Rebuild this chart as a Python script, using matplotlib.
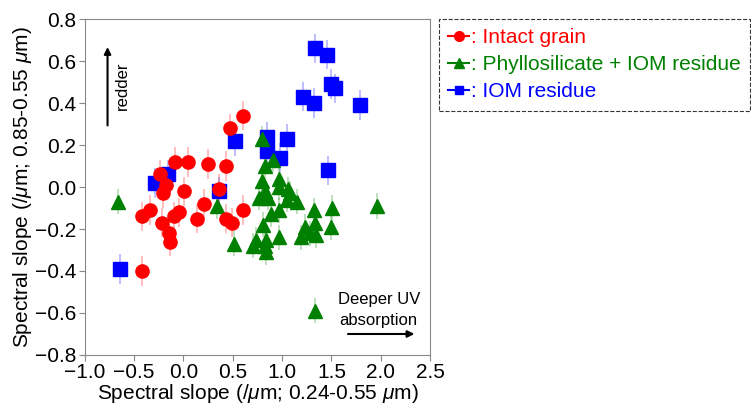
import numpy as np
import matplotlib.pyplot as plt
from matplotlib.lines import Line2D

plt.rcParams['font.family'] = ['Liberation Sans', 'DejaVu Sans']
plt.rcParams['mathtext.fontset'] = 'custom'
plt.rcParams['mathtext.rm'] = 'Liberation Sans'
plt.rcParams['mathtext.it'] = 'Liberation Sans:italic'
plt.rcParams['font.size'] = 15

# Intact grain (red circles)
intact_x = [0.60, 0.47, -0.09, 0.05, 0.25, 0.43, -0.24, -0.18, -0.21, 0.01, 0.36,
            0.21, -0.34, -0.42, -0.05, -0.10, 0.14, -0.22, 0.60, 0.43, 0.49,
            -0.15, -0.14, -0.42]
intact_y = [0.34, 0.28, 0.12, 0.12, 0.11, 0.10, 0.06, 0.01, -0.03, -0.02, -0.01,
            -0.08, -0.11, -0.14, -0.12, -0.14, -0.15, -0.17, -0.11, -0.15, -0.17,
            -0.22, -0.26, -0.40]

# Phyllosilicate + IOM residue (green triangles)
phyllo_x = [-0.66, 0.34, 0.51, 0.80, 0.91, 0.83, 0.97, 0.80, 0.83, 0.97, 1.06, 1.08,
            0.77, 0.86, 1.05, 1.15, 0.97, 0.89, 1.32, 1.51, 0.81, 1.23, 1.33, 1.50,
            0.97, 1.19, 1.28, 1.34, 0.74, 0.84, 0.71, 0.83, 0.84, 1.96, 1.33]
phyllo_y = [-0.07, -0.09, -0.27, 0.23, 0.13, 0.10, 0.04, 0.03, -0.02, 0.00, -0.01, -0.03,
            -0.05, -0.05, -0.06, -0.07, -0.11, -0.13, -0.11, -0.10, -0.18, -0.19, -0.17, -0.19,
            -0.24, -0.24, -0.22, -0.23, -0.25, -0.25, -0.28, -0.28, -0.31, -0.09, -0.59]

# IOM residue (blue squares)
iom_x = [0.52, -0.16, -0.29, 0.36, -0.64, 1.33, 1.46, 1.50, 1.54, 1.21, 1.32, 1.79,
         1.05, 1.47, 0.85, 0.85, 0.98]
iom_y = [0.22, 0.06, 0.02, -0.02, -0.39, 0.66, 0.63, 0.49, 0.47, 0.43, 0.40, 0.39,
         0.23, 0.08, 0.24, 0.17, 0.14]

err_intact = 0.07
err_phyllo = 0.06
err_iom = 0.07

fig = plt.figure(figsize=(7.51, 4.05), dpi=100)
ax = fig.add_axes([0.113, 0.1235, 0.4596, 0.8295])

ms = 9.5
ax.errorbar(iom_x, iom_y, yerr=err_iom, fmt='s', color='blue', ms=ms,
            ecolor=(0.0, 0.0, 1.0, 0.3), elinewidth=1.2, capsize=0)
ax.errorbar(phyllo_x, phyllo_y, yerr=err_phyllo, fmt='^', color='green', ms=ms,
            ecolor=(0.0, 0.5, 0.0, 0.3), elinewidth=1.2, capsize=0)
ax.errorbar(intact_x, intact_y, yerr=err_intact, fmt='o', color='red', ms=ms,
            ecolor=(1.0, 0.0, 0.0, 0.3), elinewidth=1.2, capsize=0)

ax.set_xlim(-1.0, 2.5)
ax.set_ylim(-0.8, 0.8)
ax.set_xticks(np.arange(-1.0, 2.51, 0.5))
ax.set_yticks(np.arange(-0.8, 0.81, 0.2))
ax.set_xlabel(r'Spectral slope (/$\mu$m; 0.24-0.55 $\mu$m)', labelpad=0)
ax.set_ylabel(r'Spectral slope (/$\mu$m; 0.85-0.55 $\mu$m)', labelpad=1)
for s in ax.spines.values():
    s.set_color('#888888')
ax.tick_params(color='#888888', length=4, pad=2)

# annotations
ax.annotate('', xy=(-0.77, 0.68), xytext=(-0.77, 0.28),
            arrowprops=dict(arrowstyle='-|>', color='black', lw=1.5, mutation_scale=10))
ax.text(-0.62, 0.48, 'redder', rotation=90, ha='center', va='center', fontsize=12)
ax.annotate('', xy=(2.37, -0.70), xytext=(1.64, -0.70),
            arrowprops=dict(arrowstyle='-|>', color='black', lw=1.5, mutation_scale=10))
ax.text(1.98, -0.585, 'Deeper UV\nabsorption', ha='center', va='center',
        linespacing=1.45, fontsize=12)

handles = [
    Line2D([], [], color='red', marker='o', ms=7, lw=1.5),
    Line2D([], [], color='green', marker='^', ms=7, lw=1.5),
    Line2D([], [], color='blue', marker='s', ms=6, lw=1.5),
]
labels = [': Intact grain', ': Phyllosilicate + IOM residue', ': IOM residue']
leg = fig.legend(handles, labels, loc='upper left', bbox_to_anchor=(439 / 751, 1 - 19 / 405),
                 frameon=True, fancybox=False, edgecolor='black', handlelength=1.0,
                 handletextpad=0.1, labelspacing=0.38, borderpad=0.45, borderaxespad=0,
                 fontsize=15)
leg.get_frame().set_linestyle('--')
leg.get_frame().set_linewidth(0.8)
for t, c in zip(leg.get_texts(), ['red', 'green', 'blue']):
    t.set_color(c)

fig.savefig('out.png', dpi=100)
